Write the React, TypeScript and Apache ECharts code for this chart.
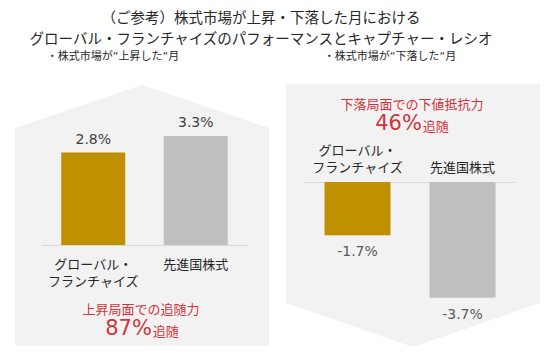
import React, { useEffect, useRef } from "react";
import * as echarts from "echarts";

const categories = ["グローバル・\nフランチャイズ", "先進国株式"];
const upValues = [2.8, 3.3];
const downValues = [-1.7, -3.7];
const barColors = ["#BF9000", "#BFBFBF"];
const titleLines = [
  "（ご参考）株式市場が上昇・下落した月における",
  "グローバル・フランチャイズのパフォーマンスとキャプチャー・レシオ",
];
const panelTitles = ["・株式市場が“上昇した“月", "・株式市場が“下落した“月"];
const captureLabels = ["上昇局面での追随力", "下落局面での下値抵抗力"];
const captureValues = ["87%", "46%"];
const captureSuffix = "追随";

const JP = "'Noto Sans CJK JP', sans-serif";
const NUM = "'DejaVu Sans', 'Noto Sans CJK JP', sans-serif";
const RED = "#D1343B";

export default function App() {
  const ref = useRef<HTMLDivElement>(null);
  useEffect(() => {
    const chart = echarts.init(ref.current!, null, { renderer: "svg" });
    const option: any = {
      animation: false,
      backgroundColor: "#ffffff",
      grid: [
        { left: 42, top: 113, width: 205, height: 132 },
        { left: 305, top: 182, width: 210, height: 125 },
      ],
      xAxis: [
        {
          type: "category",
          gridIndex: 0,
          data: categories,
          axisLine: { lineStyle: { color: "#D9D9D9" } },
          axisTick: { show: false },
          axisLabel: { color: "#262626", fontSize: 13, lineHeight: 17, margin: 10, fontFamily: JP, interval: 0 },
        },
        {
          type: "category",
          gridIndex: 1,
          position: "top",
          data: categories,
          axisLine: { lineStyle: { color: "#D9D9D9" } },
          axisTick: { show: false },
          axisLabel: { color: "#262626", fontSize: 13, lineHeight: 17, margin: 7, fontFamily: JP, interval: 0 },
        },
      ],
      yAxis: [
        { type: "value", gridIndex: 0, min: 0, max: 4, show: false },
        { type: "value", gridIndex: 1, min: -4, max: 0, show: false },
      ],
      series: [
        {
          type: "bar",
          xAxisIndex: 0,
          yAxisIndex: 0,
          barWidth: 64,
          data: upValues.map((v, i) => ({ value: v, itemStyle: { color: barColors[i] } })),
          label: {
            show: true,
            position: "outside",
            distance: 7,
            color: "#404040",
            fontSize: 14,
            fontFamily: NUM,
            formatter: (p: any) => p.value.toFixed(1) + "%",
          },
        },
        {
          type: "bar",
          xAxisIndex: 1,
          yAxisIndex: 1,
          barWidth: 66,
          data: downValues.map((v, i) => ({ value: v, itemStyle: { color: barColors[i] } })),
          label: {
            show: true,
            position: "outside",
            distance: 9,
            color: "#595959",
            fontSize: 14,
            fontFamily: NUM,
            formatter: (p: any) => p.value.toFixed(1) + "%",
          },
        },
      ],
      graphic: [
        {
          type: "polygon",
          z: -10,
          shape: { points: [[15, 347], [15, 128], [142, 85], [269, 128], [269, 347]] },
          style: { fill: "#F2F2F2" },
        },
        {
          type: "polygon",
          z: -10,
          shape: { points: [[286, 84], [540, 84], [540, 303], [413, 347], [286, 303]] },
          style: { fill: "#F2F2F2" },
        },
        ...titleLines.map((t, i) => ({
          type: "text",
          x: 261,
          y: 16 + i * 21,
          style: { text: t, fill: "#262626", font: `14.5px ${JP}`, textAlign: "center", textVerticalAlign: "middle" },
        })),
        ...panelTitles.map((t, i) => ({
          type: "text",
          x: [113, 390][i],
          y: 56,
          style: { text: t, fill: "#262626", font: `11px ${NUM}`, textAlign: "center", textVerticalAlign: "middle" },
        })),
        ...captureLabels.map((t, i) => ({
          type: "text",
          x: [141, 412][i],
          y: [308, 103][i],
          style: { text: t, fill: RED, font: `13px ${JP}`, textAlign: "center", textVerticalAlign: "middle" },
        })),
        ...captureValues.map((t, i) => ({
          type: "text",
          x: [142, 412][i],
          y: [328, 123][i],
          style: {
            text: `{big|${t}}{small|${captureSuffix}}`,
            textAlign: "center",
            textVerticalAlign: "middle",
            rich: {
              big: { fill: RED, fontSize: 21, fontFamily: NUM },
              small: { fill: RED, fontSize: 13, fontFamily: JP, padding: [4, 0, 0, 1] },
            },
          },
        })),
      ],
    };
    chart.setOption(option);
    return () => chart.dispose();
  }, []);
  return <div ref={ref} style={{ width: 551, height: 354, margin: -8 }} />;
}
